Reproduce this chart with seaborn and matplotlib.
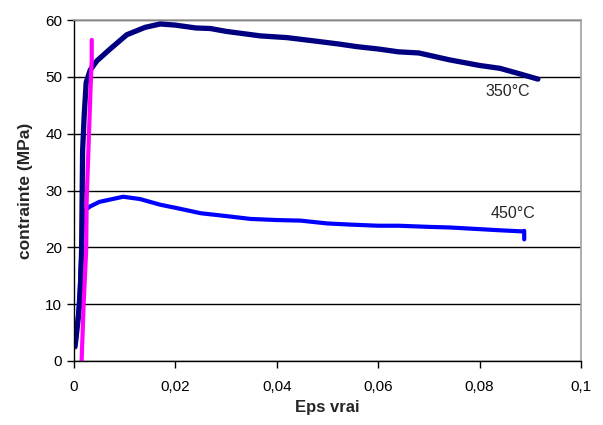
import matplotlib
matplotlib.use("Agg")
import matplotlib.pyplot as plt
import seaborn as sns
import pandas as pd
from matplotlib.ticker import FuncFormatter

# --- data ---
eps_350 = [0.0002, 0.0008, 0.0012, 0.0015, 0.0016, 0.0017, 0.0020, 0.0024, 0.0032,
           0.0045, 0.0070, 0.0104, 0.0140, 0.0170, 0.0200, 0.0240, 0.0269, 0.0300,
           0.0368, 0.0420, 0.0466, 0.0520, 0.0559, 0.0600, 0.0640, 0.0680, 0.0740,
           0.0800, 0.0840, 0.0880, 0.0915]
sig_350 = [2.5, 7.2, 10.7, 19.5, 28.3, 37.0, 43.0, 49.0, 51.2,
           52.8, 54.8, 57.4, 58.7, 59.3, 59.1, 58.6, 58.5, 58.0,
           57.2, 56.9, 56.4, 55.8, 55.3, 54.9, 54.4, 54.2, 53.0,
           52.0, 51.5, 50.5, 49.6]

eps_450 = [0.0003, 0.0008, 0.0012, 0.0015, 0.0018, 0.0021, 0.0032, 0.0050,
           0.0097, 0.0130, 0.0170, 0.0203, 0.0250, 0.0300, 0.0348, 0.0400,
           0.0447, 0.0500, 0.0545, 0.0600, 0.0640, 0.0700, 0.0740, 0.0800,
           0.0840, 0.0885, 0.0888, 0.0888]
sig_450 = [3.0, 8.0, 14.0, 20.0, 24.5, 26.5, 27.2, 28.0,
           28.9, 28.5, 27.5, 26.9, 26.0, 25.5, 25.0, 24.8,
           24.7, 24.2, 24.0, 23.8, 23.8, 23.6, 23.5, 23.2,
           23.0, 22.8, 22.9, 21.4]

eps_mag = [0.0015, 0.0019, 0.0024, 0.0025, 0.0030, 0.0033, 0.0035, 0.0035]
sig_mag = [0.0, 10.0, 19.5, 28.3, 41.2, 48.9, 53.0, 56.5]

series_names = ["350°C", "450°C", "lin"]
x_ticks = [0, 0.02, 0.04, 0.06, 0.08, 0.1]
y_ticks = [0, 10, 20, 30, 40, 50, 60]

df350 = pd.DataFrame({"eps": eps_350, "sig": sig_350})
df450 = pd.DataFrame({"eps": eps_450, "sig": sig_450})
dfmag = pd.DataFrame({"eps": eps_mag, "sig": sig_mag})

sns.set_style("white")
plt.rcParams["font.family"] = ["Liberation Sans", "DejaVu Sans"]

fig = plt.figure(figsize=(6.03, 4.25), dpi=100)
ax = fig.add_axes([74/603, 1-361/425, (581-74)/603, (361-20)/425])

sns.lineplot(data=df450, x="eps", y="sig", ax=ax, color="#0000FF", lw=3,
             sort=False, estimator=None)
sns.lineplot(data=df350, x="eps", y="sig", ax=ax, color="#000080", lw=3.8,
             sort=False, estimator=None)
sns.lineplot(data=dfmag, x="eps", y="sig", ax=ax, color="#FF00FF", lw=3,
             sort=False, estimator=None)

ax.set_xlim(0, 0.1)
ax.set_ylim(0, 60)
ax.set_xticks(x_ticks)
ax.set_yticks(y_ticks)
ax.xaxis.set_major_formatter(FuncFormatter(
    lambda v, p: "0" if abs(v) < 1e-12 else ("%g" % round(v, 3)).replace(".", ",")))
ax.yaxis.grid(True, color="black", lw=1)
ax.set_axisbelow(True)

for side in ["top", "right"]:
    ax.spines[side].set_color("#A0A0A0")
    ax.spines[side].set_linewidth(1.2)
for side in ["left", "bottom"]:
    ax.spines[side].set_color("black")
    ax.spines[side].set_linewidth(1)

ax.tick_params(axis="both", direction="out", length=5, width=1, colors="black",
               labelsize=11, bottom=True, left=True)
ax.tick_params(axis="x", pad=9)

ax.set_xlabel("Eps vrai", fontsize=12, fontweight="bold", labelpad=4)
ax.set_ylabel("contrainte (MPa)", fontsize=12.5, fontweight="bold", labelpad=9)

ax.text(0.0855, 47.4, series_names[0], fontsize=11.5, ha="center", va="center")
ax.text(0.0865, 25.9, series_names[1], fontsize=11.5, ha="center", va="center")

fig.savefig("out.png", dpi=100)
